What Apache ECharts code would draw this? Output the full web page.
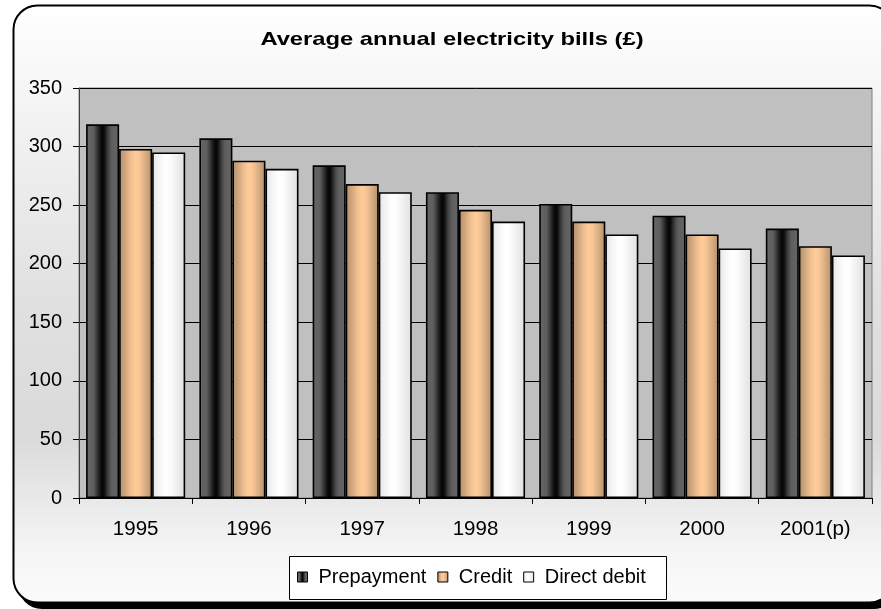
<!DOCTYPE html>
<html>
<head>
<meta charset="utf-8">
<title>Average annual electricity bills</title>
<script src="https://cdn.jsdelivr.net/npm/echarts@6/dist/echarts.min.js"></script>
<style>
  html, body { margin: 0; padding: 0; background: #ffffff; }
  #chart { width: 881px; height: 609px; }
</style>
</head>
<body>
<div id="chart"></div>
<script>
// Years shown on the category axis
const years = ['1995', '1996', '1997', '1998', '1999', '2000', '2001(p)'];

// Average annual bill (£) by payment method
const prepayment  = [319, 307, 284, 261, 251, 241, 230];
const credit      = [298, 288, 268, 246, 236, 225, 215];
const directDebit = [295, 281, 261, 236, 225, 213, 207];

// Value axis range
const yMin = 0, yMax = 350, yStep = 50;

const TITLE = 'Average annual electricity bills (£)';
const FONT = "'Liberation Sans', Arial, sans-serif";
const G = echarts.graphic.LinearGradient;

// Banded horizontal fills give each bar a rounded, column-like look
function bands(stops) {
  return new G(0, 0, 1, 0, stops.map(s => ({ offset: s[0], color: s[1] })));
}
const fillPrepay = bands([
  [0, '#666666'], [0.22, '#5e5e5e'], [0.28, '#4a4a4a'], [0.36, '#2c2c2c'],
  [0.44, '#101010'], [0.5, '#050505'], [0.56, '#101010'], [0.62, '#2c2c2c'],
  [0.70, '#4a4a4a'], [0.78, '#5e5e5e'], [1, '#666666']
]);
const fillCredit = bands([
  [0, '#b38f6b'], [0.15, '#c9a27a'], [0.35, '#f0bf8f'], [0.5, '#ffcc99'],
  [0.62, '#f7c594'], [0.8, '#d7ad82'], [1, '#b38f6b']
]);
const fillDebit = bands([
  [0, '#e4e4e4'], [0.2, '#f4f4f4'], [0.4, '#ffffff'], [0.55, '#fcfcfc'],
  [0.8, '#ececec'], [1, '#e0e0e0']
]);

function barSeries(name, data, fill) {
  return {
    name: name,
    type: 'bar',
    data: data,
    barGap: '0%',
    barCategoryGap: '12.5%',
    itemStyle: { color: fill, borderColor: '#000000', borderWidth: 1.6 },
    emphasis: { disabled: true },
    animation: false
  };
}

const chart = echarts.init(document.getElementById('chart'), null, { renderer: 'canvas' });

chart.setOption({
  backgroundColor: '#ffffff',
  animation: false,
  textStyle: { fontFamily: FONT },
  graphic: [
    // drop shadow of the frame
    {
      type: 'rect', z: -20, silent: true,
      shape: { x: 18, y: 10, width: 880, height: 599, r: 24 },
      style: { fill: '#000000' }
    },
    // rounded frame with soft vertical shading
    {
      type: 'rect', z: -10, silent: true,
      shape: { x: 13.5, y: 5.5, width: 880, height: 597, r: 24 },
      style: {
        fill: new G(0, 0, 0, 1, [
          { offset: 0, color: '#ffffff' },
          { offset: 0.2, color: '#f2f2f2' },
          { offset: 0.5, color: '#e0e0e0' },
          { offset: 0.72, color: '#dadada' },
          { offset: 0.92, color: '#f6f6f6' },
          { offset: 1, color: '#fbfbfb' }
        ]),
        stroke: '#000000', lineWidth: 2
      }
    },
    // legend box
    {
      type: 'rect', z: -5, silent: true,
      shape: { x: 289.5, y: 556.5, width: 377, height: 43 },
      style: { fill: '#ffffff', stroke: '#000000', lineWidth: 1 }
    },
    // chart title, widened a little for its loose spacing
    {
      type: 'text', z: 10, silent: true,
      x: 452, y: 40, scaleX: 1.25,
      style: {
        text: TITLE, fill: '#000000',
        font: "bold 19px 'Liberation Sans', Arial, sans-serif",
        align: 'center', verticalAlign: 'middle'
      }
    }
  ],
  legend: {
    data: ['Prepayment', 'Credit', 'Direct debit'],
    left: 292, top: 562,
    itemWidth: 10, itemHeight: 10, itemGap: 11,
    icon: 'rect',
    itemStyle: { borderColor: '#000000', borderWidth: 1 },
    textStyle: { fontFamily: FONT, fontSize: 20, color: '#000000', padding: [0, 0, 0, 6] },
    selectedMode: false
  },
  grid: {
    left: 79, right: 9, top: 88, bottom: 111,
    show: true, backgroundColor: '#c0c0c0', borderColor: '#808080', borderWidth: 1,
    containLabel: false
  },
  xAxis: {
    type: 'category',
    data: years,
    axisLine: { show: true, lineStyle: { color: '#000000', width: 1 } },
    axisTick: { show: true, alignWithLabel: false, length: 6, lineStyle: { color: '#000000' } },
    axisLabel: { fontFamily: FONT, fontSize: 20.5, color: '#000000', margin: 21 },
    splitLine: { show: false }
  },
  yAxis: {
    type: 'value',
    min: yMin, max: yMax, interval: yStep,
    axisLine: { show: true, lineStyle: { color: '#404040', width: 1 } },
    axisTick: { show: true, length: 6, lineStyle: { color: '#000000' } },
    axisLabel: { fontFamily: FONT, fontSize: 20, color: '#000000', margin: 17 },
    splitLine: { show: true, lineStyle: { color: '#000000', width: 1 } }
  },
  series: [
    barSeries('Prepayment', prepayment, fillPrepay),
    barSeries('Credit', credit, fillCredit),
    barSeries('Direct debit', directDebit, fillDebit)
  ]
});
</script>
</body>
</html>
